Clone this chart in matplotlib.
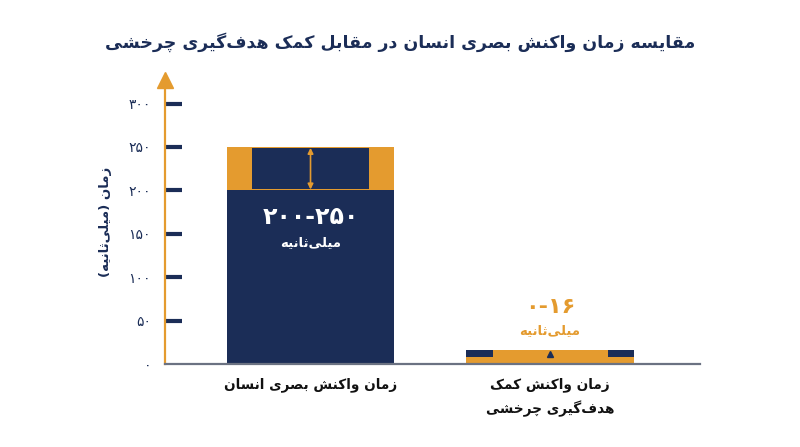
import matplotlib
matplotlib.use("Agg")
import matplotlib.pyplot as plt
from matplotlib.patches import Rectangle

plt.rcParams['font.family'] = ['DejaVu Sans']

# ---------------- data ----------------
categories = ["زمان واکنش بصری انسان", "زمان واکنش کمک\nهدف‌گیری چرخشی"]
range_low = [200, 0]
range_high = [250, 16]
range_labels = ["۲۰۰-۲۵۰", "۰-۱۶"]
unit_label = "میلی‌ثانیه"
y_ticks = [0, 50, 100, 150, 200, 250, 300]
y_tick_labels = ["۰", "۵۰", "۱۰۰", "۱۵۰", "۲۰۰", "۲۵۰", "۳۰۰"]
y_label = "زمان (میلی‌ثانیه)"
title = "مقایسه زمان واکنش بصری انسان در مقابل کمک هدف‌گیری چرخشی"

NAVY = "#1b2d57"
ORANGE = "#e49b2f"
GRAY = "#6b7282"

# ------------- minimal Persian shaping (presentation forms + RTL order) -------------
FORMS = {
    '\u0627': ('\uFE8D', '\uFE8E', None, None),
    '\u0622': ('\uFE81', '\uFE82', None, None),
    '\u0628': ('\uFE8F', '\uFE90', '\uFE91', '\uFE92'),
    '\u067E': ('\uFB56', '\uFB57', '\uFB58', '\uFB59'),
    '\u062A': ('\uFE95', '\uFE96', '\uFE97', '\uFE98'),
    '\u062B': ('\uFE99', '\uFE9A', '\uFE9B', '\uFE9C'),
    '\u062C': ('\uFE9D', '\uFE9E', '\uFE9F', '\uFEA0'),
    '\u0686': ('\uFB7A', '\uFB7B', '\uFB7C', '\uFB7D'),
    '\u062D': ('\uFEA1', '\uFEA2', '\uFEA3', '\uFEA4'),
    '\u062E': ('\uFEA5', '\uFEA6', '\uFEA7', '\uFEA8'),
    '\u062F': ('\uFEA9', '\uFEAA', None, None),
    '\u0630': ('\uFEAB', '\uFEAC', None, None),
    '\u0631': ('\uFEAD', '\uFEAE', None, None),
    '\u0632': ('\uFEAF', '\uFEB0', None, None),
    '\u0698': ('\uFB8A', '\uFB8B', None, None),
    '\u0633': ('\uFEB1', '\uFEB2', '\uFEB3', '\uFEB4'),
    '\u0634': ('\uFEB5', '\uFEB6', '\uFEB7', '\uFEB8'),
    '\u0635': ('\uFEB9', '\uFEBA', '\uFEBB', '\uFEBC'),
    '\u0641': ('\uFED1', '\uFED2', '\uFED3', '\uFED4'),
    '\u0642': ('\uFED5', '\uFED6', '\uFED7', '\uFED8'),
    '\u06A9': ('\uFB8E', '\uFB8F', '\uFB90', '\uFB91'),
    '\u06AF': ('\uFB92', '\uFB93', '\uFB94', '\uFB95'),
    '\u0644': ('\uFEDD', '\uFEDE', '\uFEDF', '\uFEE0'),
    '\u0645': ('\uFEE1', '\uFEE2', '\uFEE3', '\uFEE4'),
    '\u0646': ('\uFEE5', '\uFEE6', '\uFEE7', '\uFEE8'),
    '\u0648': ('\uFEED', '\uFEEE', None, None),
    '\u0647': ('\uFEE9', '\uFEEA', '\uFEEB', '\uFEEC'),
    '\u06CC': ('\uFBFC', '\uFBFD', '\uFBFE', '\uFBFF'),
}
MIRROR = {'(': ')', ')': '('}


def shape_line(s):
    out = []
    n = len(s)
    for i, c in enumerate(s):
        if c == '\u200c':
            continue
        if c not in FORMS:
            out.append(MIRROR.get(c, c))
            continue
        prev = s[i - 1] if i > 0 else ''
        nxt = s[i + 1] if i + 1 < n else ''
        jp = prev in FORMS and FORMS[prev][2] is not None
        jn = FORMS[c][2] is not None and nxt in FORMS
        iso, fin, ini, med = FORMS[c]
        if jp and jn:
            out.append(med)
        elif jp:
            out.append(fin)
        elif jn:
            out.append(ini)
        else:
            out.append(iso)
    return ''.join(reversed(out))


def fa(s):
    return '\n'.join(shape_line(line) for line in s.split('\n'))


# ---------------- figure ----------------
W, H = 800, 447
fig = plt.figure(figsize=(W / 100, H / 100), dpi=100)
fig.patch.set_facecolor("white")

x0_px, x1_px = 165, 700
y0_px, ytop_px = 364, 80
ax = fig.add_axes([x0_px / W, 1 - y0_px / H, (x1_px - x0_px) / W, (y0_px - ytop_px) / H])

px_per_unit = (364 - 147) / 250.0
ymax = (y0_px - ytop_px) / px_per_unit
ax.set_ylim(0, ymax)

xpos = [0, 1]
bar_w = 0.70
ax.set_xlim(-0.6075, 1.626)

# bar 1: navy base up to range start, orange band for the range
ax.bar(xpos[0], range_low[0], width=bar_w, color=NAVY, zorder=2)
ax.bar(xpos[0], range_high[0] - range_low[0], bottom=range_low[0], width=bar_w,
       color=ORANGE, zorder=2)
inset = 0.105
ax.add_patch(Rectangle((xpos[0] - bar_w / 2 + inset, range_low[0] + 1.2),
                       bar_w - 2 * inset, range_high[0] - range_low[0] - 2.2,
                       facecolor=NAVY, edgecolor='none', zorder=3))
ax.annotate('', xy=(xpos[0], range_high[0] - 1), xytext=(xpos[0], range_low[0] + 1),
            arrowprops=dict(arrowstyle='<|-|>', color=ORANGE, lw=1.2,
                            mutation_scale=8, shrinkA=0, shrinkB=0), zorder=4)

# bar 2: orange range from 0 to 16 with navy side marks
ax.bar(xpos[1], range_high[1] - range_low[1], bottom=range_low[1], width=bar_w,
       color=ORANGE, zorder=2)
side = 0.11
for sx in (xpos[1] - bar_w / 2, xpos[1] + bar_w / 2 - side):
    ax.add_patch(Rectangle((sx, range_high[1] * 0.5), side, range_high[1] * 0.5,
                           facecolor=NAVY, edgecolor='none', zorder=3))
ax.plot([xpos[1]], [range_high[1] * 0.7], marker='^', color=NAVY, ms=5, zorder=4)

# value labels
ax.text(xpos[0], 169, range_labels[0], ha='center', va='center', color='white',
        fontsize=17, fontweight='bold', zorder=5)
ax.text(xpos[0], 140, fa(unit_label), ha='center', va='center', color='white',
        fontsize=9.5, fontweight='bold', zorder=5)
ax.text(xpos[1], 66, range_labels[1], ha='center', va='center', color=ORANGE,
        fontsize=16, fontweight='bold', zorder=5)
ax.text(xpos[1], 38.5, fa(unit_label), ha='center', va='center', color=ORANGE,
        fontsize=9.5, fontweight='bold', zorder=5)

# axes styling
for s in ('top', 'right'):
    ax.spines[s].set_visible(False)
ax.spines['left'].set_color(ORANGE)
ax.spines['left'].set_linewidth(1.6)
ax.spines['bottom'].set_color(GRAY)
ax.spines['bottom'].set_linewidth(1.6)
ax.spines['left'].set_zorder(6)
ax.spines['bottom'].set_zorder(6)
ax.plot([0], [1], marker='^', color=ORANGE, ms=11, transform=ax.transAxes,
        clip_on=False, zorder=7)

ax.set_yticks(y_ticks)
ax.set_yticklabels(y_tick_labels)
ax.tick_params(axis='y', direction='in', length=12, width=3, color=NAVY,
               labelcolor=NAVY, labelsize=10, pad=10)
ax.yaxis.get_major_ticks()[0].tick1line.set_visible(False)
ax.set_xticks([])

ax.set_ylabel(fa(y_label), color=NAVY, fontsize=9.5, fontweight='bold', labelpad=12)

# category labels
for xp, cat in zip(xpos, categories):
    ax.text(xp, -15, fa(cat), ha='center', va='top', color='#111111', fontsize=9.8,
            fontweight='bold', linespacing=1.7, transform=ax.transData, clip_on=False)

fig.text(0.5, 1 - 42 / H, fa(title), ha='center', va='center', color=NAVY,
         fontsize=12.5, fontweight='bold')

fig.savefig("out.png", dpi=100, facecolor='white')
